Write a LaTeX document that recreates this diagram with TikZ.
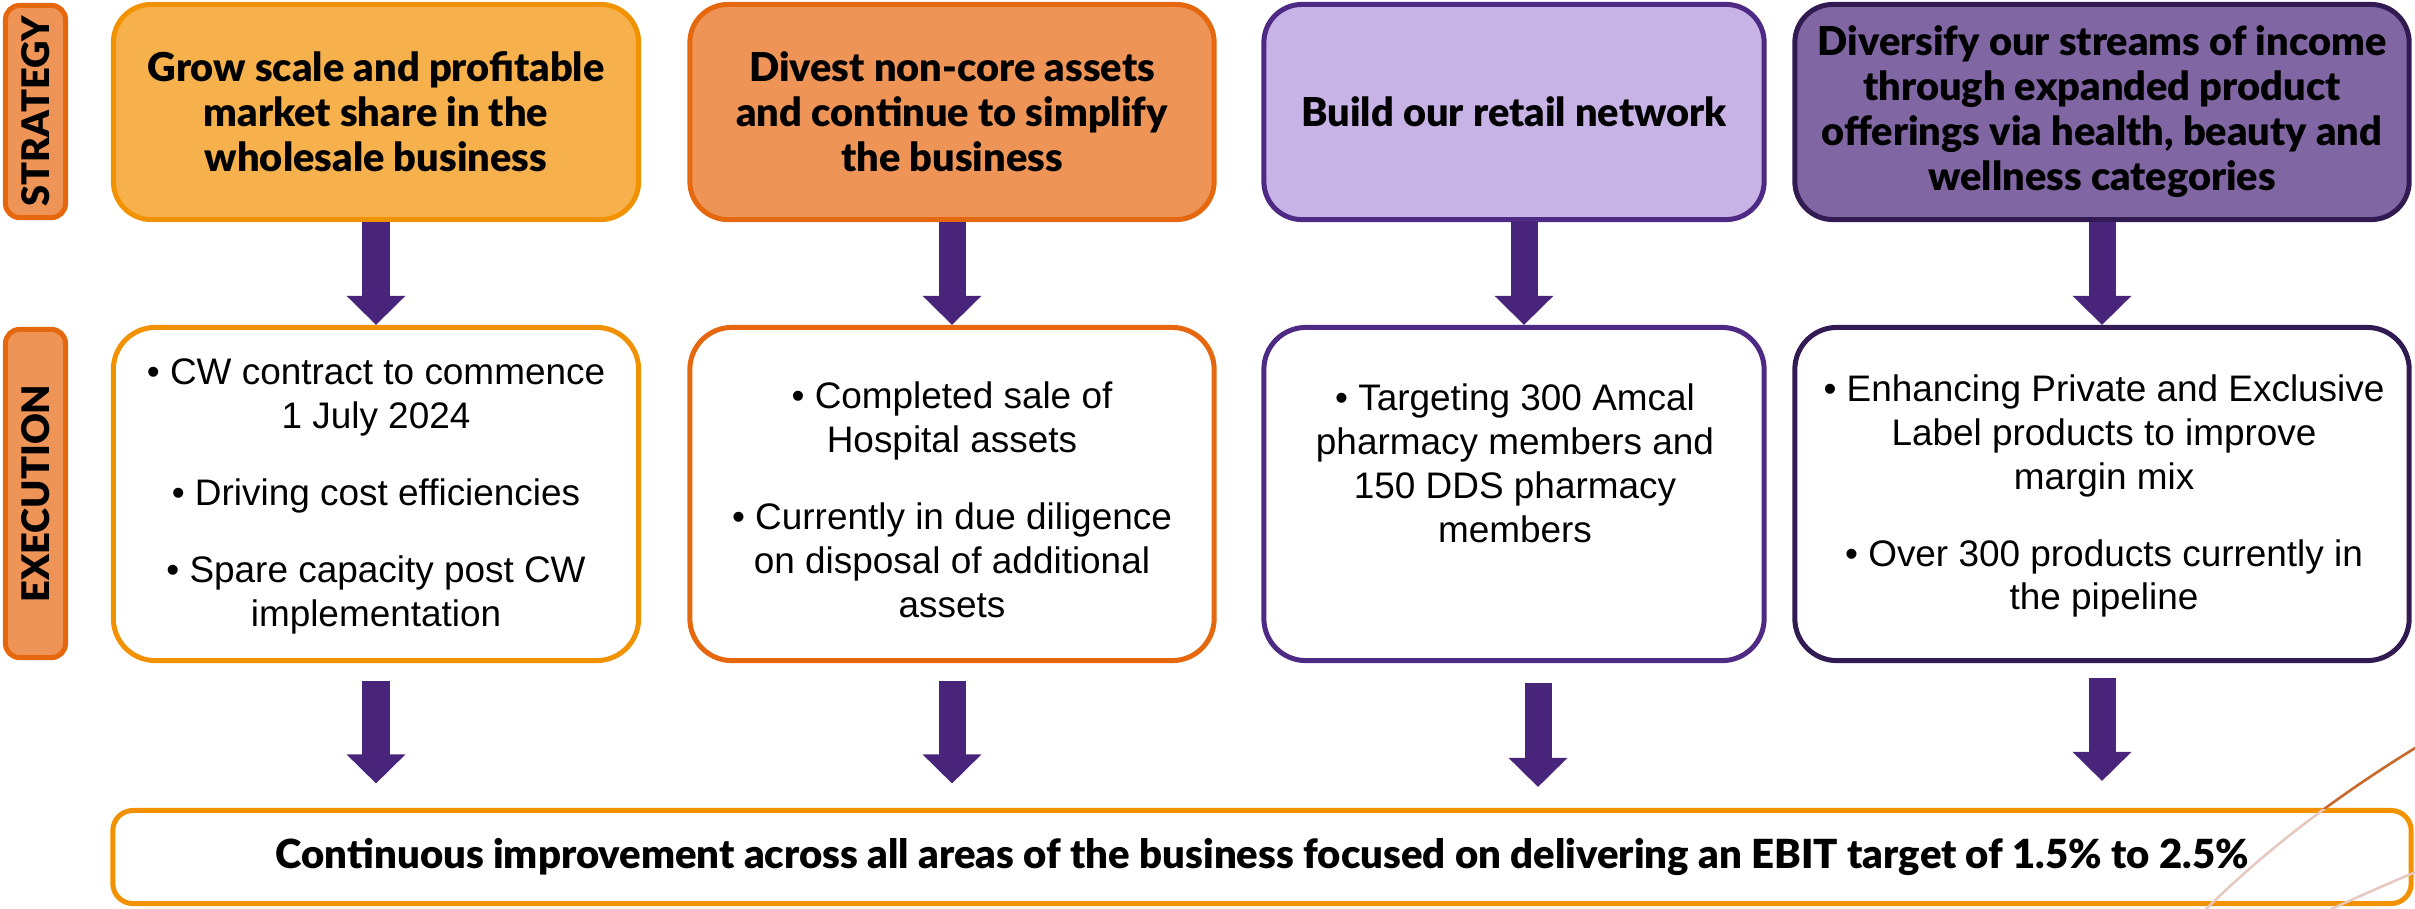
\documentclass[tikz,border=0pt]{standalone}
\usepackage{fontspec}
\usepackage{graphicx}
\setmainfont{Liberation Sans}
\IfFontExistsTF{Lato Black}
  {\newfontfamily\headfont{Lato Black}}
  {\newfontfamily\headfont{Lato Bold}[FakeBold=1.5]}
\usetikzlibrary{arrows.meta,calc}
\definecolor{orA}{HTML}{F39200}
\definecolor{fillA}{HTML}{F6B14D}
\definecolor{orB}{HTML}{E5670E}
\definecolor{fillB}{HTML}{EE9457}
\definecolor{purB}{HTML}{4E2A84}
\definecolor{fillC}{HTML}{C8B3E7}
\definecolor{purD}{HTML}{321A52}
\definecolor{fillD}{HTML}{8066A3}
\definecolor{arrowc}{HTML}{48247A}
\definecolor{decoA}{HTML}{C8692A}
\definecolor{decoB}{HTML}{E6C8C0}
\begin{document}
\begin{tikzpicture}[x=0.01cm,y=-0.01cm,
  topbox/.style={draw, rounded corners=0.38cm, line width=0.05cm, minimum height=2.15cm,
    align=center, inner sep=0pt, font=\headfont\fontsize{11.3}{12.8}\selectfont},
  execbox/.style={draw, fill=white, rounded corners=0.42cm, line width=0.05cm, minimum height=3.33cm},
  bodytext/.style={align=center, inner sep=0pt, font=\fontsize{10.5}{12.5}\selectfont},
  lblbox/.style={draw=orB, fill=fillB, rounded corners=0.14cm, line width=0.05cm, minimum width=0.6cm,
    inner sep=0pt, font=\headfont\fontsize{10.8}{12}\selectfont},
  blockarrow/.style={draw=arrowc, line width=0.27cm, -{Triangle[width=0.57cm,length=0.29cm]}},
  decoline/.style={line width=0.025cm},
]
\useasboundingbox (0,0) rectangle (2415,908);

% side labels
\node[lblbox, minimum height=2.12cm] (lS) at (35.5,111.5) {\rotatebox{90}{STRATEGY}};
\node[lblbox, minimum height=3.28cm] (lE) at (35.5,493.5) {\rotatebox{90}{EXECUTION}};

% strategy boxes
\node[topbox, draw=orA, fill=fillA, minimum width=5.25cm] (s1) at (376,112)
  {Grow scale and profitable\\market share in the\\wholesale business};
\node[topbox, draw=orB, fill=fillB, minimum width=5.24cm] (s2) at (952,112)
  {Divest non-core assets\\and continue to simplify\\the business};
\node[topbox, draw=purB, fill=fillC, minimum width=5.0cm] (s3) at (1514,112)
  {Build our retail network};
\node[topbox, draw=purD, fill=fillD, minimum width=6.14cm] (s4) at (2102,112)
  {Diversify our streams of income\\through expanded product\\offerings via health, beauty and\\wellness categories};

% execution boxes
\node[execbox, draw=orA, minimum width=5.25cm] (e1) at (376,494) {};
\node[execbox, draw=orB, minimum width=5.24cm] (e2) at (952,494) {};
\node[execbox, draw=purB, minimum width=5.0cm] (e3) at (1514,494) {};
\node[execbox, draw=purD, minimum width=6.14cm] (e4) at (2102,494) {};

\node[bodytext] (t1) at (376,496)
  {\textbullet\ CW contract to commence\\1 July 2024\\[0.33cm]\textbullet\ Driving cost efficiencies\\[0.33cm]\textbullet\ Spare capacity post CW\\implementation};
\node[bodytext] (t2) at (952,500)
  {\textbullet\ Completed sale of\\Hospital assets\\[0.33cm]\textbullet\ Currently in due diligence\\on disposal of additional\\assets};
\node[bodytext] (t3) at (1515,463)
  {\textbullet\ Targeting 300 Amcal\\pharmacy members and\\150 DDS pharmacy\\members};
\node[bodytext] (t4) at (2104,496)
  {\textbullet\ Enhancing Private and Exclusive\\Label products to improve\\margin mix\\[0.33cm]\textbullet\ Over 300 products currently in\\the pipeline};

% bottom box
\node[draw=orA, fill=white, rounded corners=0.2cm, line width=0.05cm,
  minimum width=22.97cm, minimum height=0.93cm, inner sep=0pt,
  font=\headfont\fontsize{11.4}{14}\selectfont] (bot) at (1262,857)
  {Continuous improvement across all areas of the business focused on delivering an EBIT target of 1.5\% to 2.5\%};

% decorative curves (faint inside the bottom box, stronger above it)
\draw[decoB, decoline] (2420,745) .. controls (2330,800) and (2260,855) .. (2200,915);
\draw[decoB, decoline] (2420,870) .. controls (2385,885) and (2355,898) .. (2325,912);
\begin{scope}
  \clip (2000,0) rectangle (2420,808);
  \draw[decoA, decoline] (2420,745) .. controls (2330,800) and (2260,855) .. (2200,915);
\end{scope}

% arrows strategy -> execution
\draw[blockarrow] (s1.south) -- (e1.north);
\draw[blockarrow] (s2.south) -- (e2.north);
\draw[blockarrow] ([xshift=0.1cm]s3.south) -- ([xshift=0.1cm]e3.north);
\draw[blockarrow] (s4.south) -- (e4.north);

% arrows execution -> bottom
\draw[blockarrow] ([yshift=-0.175cm]e1.south) -- ($(e1.south |- bot.north)+(0,0.245cm)$);
\draw[blockarrow] ([yshift=-0.175cm]e2.south) -- ($(e2.south |- bot.north)+(0,0.245cm)$);
\draw[blockarrow] ([xshift=0.24cm,yshift=-0.2cm]e3.south) -- ($(e3.south |- bot.north)+(0.24cm,0.21cm)$);
\draw[blockarrow] ([yshift=-0.15cm]e4.south) -- ($(e4.south |- bot.north)+(0,0.27cm)$);
\end{tikzpicture}
\end{document}
